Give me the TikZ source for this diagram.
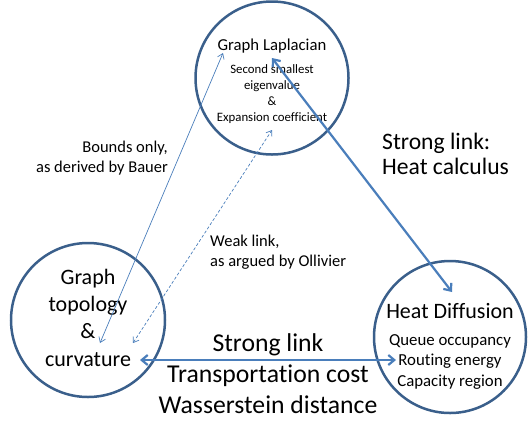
\documentclass[tikz,border=0pt]{standalone}
\usepackage{fontspec}
\setmainfont{Carlito}[Ligatures=NoCommon]
\usetikzlibrary{arrows.meta}
\definecolor{ringblue}{HTML}{3A5F8B}
\definecolor{linkblue}{HTML}{4A7EBB}

\begin{document}
\begin{tikzpicture}[x=1pt, y=-1pt,
  ring/.style={draw=ringblue, line width=2.5pt, circle, inner sep=0pt},
  thinlink/.style={draw=linkblue, line width=0.7pt, {Straight Barb[length=5pt,width=7pt]}-{Straight Barb[length=5pt,width=7pt]}},
  thicklink/.style={draw=linkblue, line width=2.2pt, {Straight Barb[length=6pt,width=10pt]}-{Straight Barb[length=6pt,width=10pt]}},
  txt/.style={inner sep=0pt, anchor=base}]
\useasboundingbox (0,0) rectangle (529,424);

\node[ring, minimum size=153pt] (laplacian) at (272,78) {};
\node[ring, minimum size=154pt] (topology) at (88,320) {};
\node[ring, minimum size=152pt] (diffusion) at (450,337) {};

% multi-line texts sit on the baseline of their last line
\node[txt, font=\fontsize{16.7}{20}\selectfont] (laptitle) at (272,50) {Graph Laplacian};
\node[txt, align=center, font=\fontsize{12.8}{15.7}\selectfont] (lapsub) at (272,121)
  {Second smallest\\eigenvalue\\\&\\Expansion coefficient};
\node[txt, align=center, font=\fontsize{22}{27.3}\selectfont] (toptext) at (88,366)
  {Graph\\topology\\\&\\curvature};
\node[txt, font=\fontsize{22}{26}\selectfont] (difftitle) at (450,318) {Heat Diffusion};
\node[txt, align=center, font=\fontsize{16.8}{20.5}\selectfont] (diffsub) at (450,386)
  {Queue occupancy\\Routing energy\\Capacity region};

\node[txt, align=center, font=\fontsize{25.7}{31}\selectfont] (wasser) at (268,413)
  {Strong link\\Transportation cost\\Wasserstein distance};
\node[txt, anchor=base west, align=left, font=\fontsize{23.6}{24.5}\selectfont] (heatcalc) at (382,174)
  {Strong link:\\Heat calculus};
\node[txt, anchor=base east, align=right, font=\fontsize{16.5}{20}\selectfont] (bauer) at (168,172)
  {Bounds only,\\as derived by Bauer};
\node[txt, anchor=base west, align=left, font=\fontsize{16.5}{20}\selectfont] (ollivier) at (210,266)
  {Weak link,\\as argued by Ollivier};

\coordinate (bauerlo) at (100,343);
\coordinate (bauerhi) at (223,53);
\coordinate (weaklo) at (133,343);
\coordinate (weakhi) at (272,130);
\coordinate (heatlo) at (452,292);
\coordinate (heathi) at (272,58);
\coordinate (translo) at (140,360);
\coordinate (transhi) at (396,360);

\draw[thinlink] (bauerlo) -- (bauerhi);
\draw[thinlink, dash pattern=on 3pt off 2pt] (weaklo) -- (weakhi);
\draw[thicklink] (heathi) -- (heatlo);
\draw[thicklink] (translo) -- (transhi);
\end{tikzpicture}
\end{document}
